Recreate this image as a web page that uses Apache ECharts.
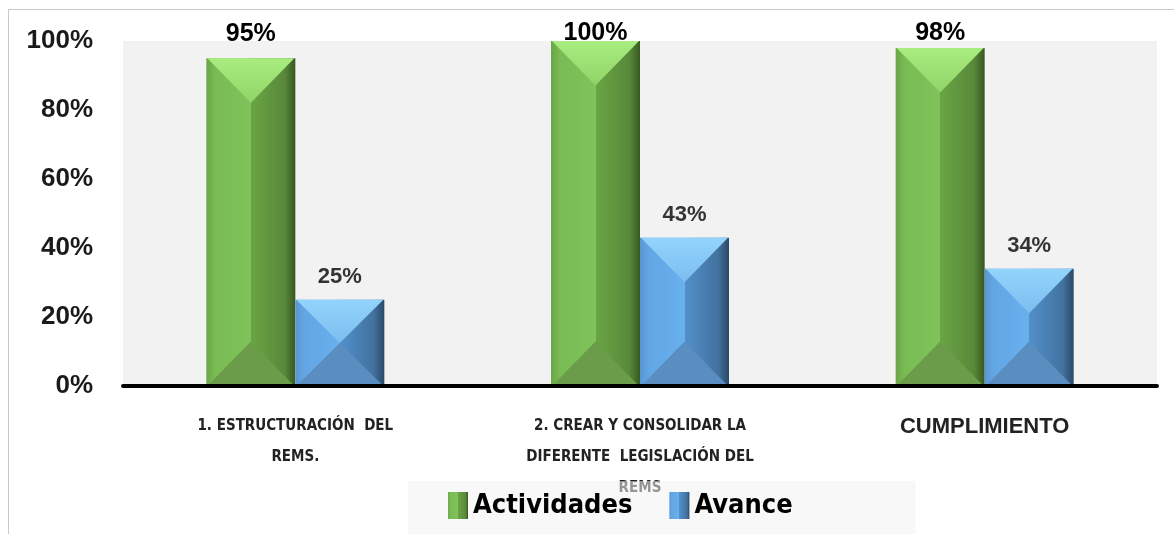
<!DOCTYPE html>
<html>
<head>
<meta charset="utf-8">
<title>Actividades y avance</title>
<script src="https://cdn.jsdelivr.net/npm/echarts@6/dist/echarts.min.js"></script>
<style>
  html, body { margin: 0; padding: 0; background: #fff; }
  #frame { position: absolute; left: 8px; top: 9px; width: 1166px; height: 525px; border-left: 1px solid #c8c8c8; border-top: 1px solid #c8c8c8; box-sizing: border-box; }
  #chart { position: absolute; left: 0; top: 0; width: 1174px; height: 534px; }
</style>
</head>
<body>
<div id="frame"></div>
<div id="chart"></div>
<script>
  // datos
  var categorias = ['1. ESTRUCTURACIÓN  DEL\nREMS.', '2. CREAR Y CONSOLIDAR LA\nDIFERENTE  LEGISLACIÓN DEL\nREMS', 'CUMPLIMIENTO']
  var actividades = [95, 100, 98]
  var avance = [25, 43, 34]
  var yMin = 0
  var yMax = 100
  var yPaso = 20

  var BAR_W = 89
  var NARROW = '"Liberation Sans Narrow", "DejaVu Sans Condensed", "Liberation Sans", sans-serif'
  var SANS = '"Liberation Sans", Arial, sans-serif'
  // separacion de las etiquetas verdes (en el original quedan todas a la misma altura)
  var gapActividades = [12, -5, 2]

  function grad(stops) {
    return new echarts.graphic.LinearGradient(0, 0, 1, 0, stops.map(function (s) {
      return { offset: s[0], color: s[1] }
    }))
  }
  function gradV(c1, c2) {
    return new echarts.graphic.LinearGradient(0, 0, 0, 1, [{ offset: 0, color: c1 }, { offset: 1, color: c2 }])
  }

  var verde = grad([[0, '#6aa547'], [0.1, '#79bb54'], [0.5, '#7fc35a'], [0.5, '#6aa544'], [0.88, '#58893a'], [1, '#385820']])
  var azul = grad([[0, '#5996d2'], [0.1, '#63a6e4'], [0.5, '#68b0ee'], [0.5, '#5290ca'], [0.88, '#42729f'], [1, '#2b4866']])

  // caras superior e inferior del bisel de cada barra
  function bisel(params, api) {
    var i = api.value(0)
    var p0 = api.coord([i, 0])
    var cx = p0[0], y0 = p0[1]
    var caras = [
      { v: api.value(1), x: cx - BAR_W, top: gradV('#a9ec80', '#90d468'), bot: '#6a9c4a' },
      { v: api.value(2), x: cx, top: gradV('#92d4fc', '#7cbdf0'), bot: '#5a8ec0' }
    ]
    var children = []
    caras.forEach(function (c) {
      var yt = api.coord([i, c.v])[1]
      var d = Math.min(BAR_W / 2, (y0 - yt) / 2)
      children.push({ type: 'polygon', shape: { points: [[c.x + 1, yt], [c.x + BAR_W - 1, yt], [c.x + BAR_W / 2, yt + d]] }, style: { fill: c.top } })
      children.push({ type: 'polygon', shape: { points: [[c.x + 1, y0], [c.x + BAR_W - 1, y0], [c.x + BAR_W / 2, y0 - d]] }, style: { fill: c.bot } })
    })
    return { type: 'group', children: children }
  }

  var chart = echarts.init(document.getElementById('chart'))
  var option = {
    animation: false,
    grid: { left: 123, right: 17, top: 41, bottom: 148, show: true, backgroundColor: '#f2f2f2', borderWidth: 0 },
    legend: {
      data: ['Actividades', 'Avance'],
      z: 20,
      left: 408,
      top: 481,
      padding: [11, 123, 20, 40],
      backgroundColor: 'rgba(242,242,242,0.55)',
      icon: 'rect',
      itemWidth: 20,
      itemHeight: 27,
      itemGap: 37,
      textStyle: { fontFamily: NARROW, fontSize: 27, fontWeight: 'bold', color: '#000' }
    },
    xAxis: {
      type: 'category',
      data: categorias,
      z: 10,
      axisLine: { lineStyle: { color: '#000', width: 4 } },
      axisTick: { show: false },
      axisLabel: {
        margin: 25,
        interval: 0,
        formatter: function (v, idx) {
          var tag = idx === 2 ? 'w' : 'n'
          return v.split('\n').map(function (l) { return '{' + tag + '|' + l + '}' }).join('\n')
        },
        rich: {
          n: { fontFamily: NARROW, fontSize: 15, fontWeight: 'bold', color: '#222', lineHeight: 31 },
          w: { fontFamily: SANS, fontSize: 22, fontWeight: 'bold', color: '#222', lineHeight: 31 }
        }
      }
    },
    yAxis: {
      type: 'value',
      min: yMin,
      max: yMax,
      interval: yPaso,
      splitLine: { show: false },
      axisLine: { show: false },
      axisLabel: { formatter: '{value}%', fontFamily: SANS, fontSize: 26, fontWeight: 'bold', color: '#1a1a1a', margin: 30 }
    },
    series: [
      {
        name: 'Actividades',
        type: 'bar',
        barWidth: BAR_W,
        barGap: '0%',
        itemStyle: { color: verde },
        data: actividades.map(function (v, i) {
          return { value: v, label: { distance: gapActividades[i] } }
        }),
        label: { show: true, position: 'top', formatter: '{c}%', fontFamily: SANS, fontSize: 25, fontWeight: 'bold', color: '#000' }
      },
      {
        name: 'Avance',
        type: 'bar',
        barWidth: BAR_W,
        barGap: '0%',
        itemStyle: { color: azul },
        data: avance,
        label: { show: true, position: 'top', distance: 12, formatter: '{c}%', fontFamily: SANS, fontSize: 22, fontWeight: 'bold', color: '#333' }
      },
      {
        name: 'bisel',
        type: 'custom',
        z: 3,
        silent: true,
        clip: false,
        renderItem: bisel,
        encode: { x: 0, y: [1, 2] },
        data: categorias.map(function (c, i) { return [i, actividades[i], avance[i]] })
      }
    ]
  }
  chart.setOption(option)
</script>
</body>
</html>
